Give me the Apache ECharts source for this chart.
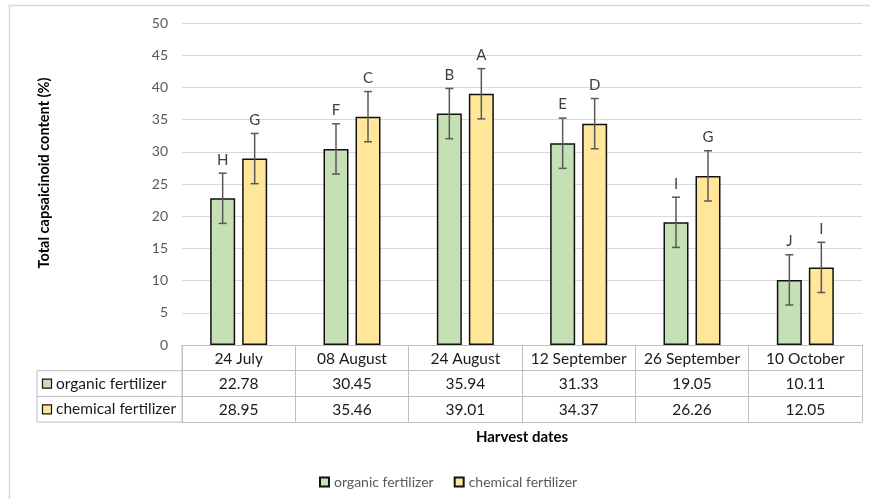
<!DOCTYPE html>
<html>
<head>
<meta charset="utf-8">
<script src="https://cdn.jsdelivr.net/npm/echarts@6/dist/echarts.min.js"></script>
<style>
  html, body { margin: 0; padding: 0; background: #fff; }
  #chart { width: 870px; height: 499px; }
</style>
</head>
<body>
<div id="chart"></div>
<script>
// Harvest dates and capsaicinoid content per treatment
var categories = ['24 July', '08 August', '24 August', '12 September', '26 September', '10 October'];
var organic = [22.78, 30.45, 35.94, 31.33, 19.05, 10.11];
var chemical = [28.95, 35.46, 39.01, 34.37, 26.26, 12.05];
var organicErr = [3.9, 3.9, 3.9, 3.9, 3.9, 3.9];
var chemicalErr = [3.9, 3.9, 3.9, 3.9, 3.9, 3.9];
var organicLetters = ['H', 'F', 'B', 'E', 'I', 'J'];
var chemicalLetters = ['G', 'C', 'A', 'D', 'G', 'I'];
var yTicks = { min: 0, max: 50, interval: 5 };

var FONT = 'Lato, "Open Sans", sans-serif';
var GREEN = '#c5e0b4', YELLOW = '#ffe699';
var GRID = { left: 182, right: 8, top: 23, bottom: 154 };
var ROW = 25.7;
var BAR_W = 25, BAR_GAP = 7;
var half = (BAR_W + BAR_GAP) / 2;

function errData(vals, errs) {
  return vals.map(function (v, i) { return [i, v - errs[i], v + errs[i]]; });
}

function errorRenderer(offset, letters) {
  return function (params, api) {
    var hi = api.coord([api.value(0), api.value(2)]);
    var lo = api.coord([api.value(0), api.value(1)]);
    var x = hi[0] + offset;
    var cap = 4;
    var st = { stroke: '#595959', lineWidth: 1.5 };
    return {
      type: 'group',
      children: [
        { type: 'line', shape: { x1: x, y1: hi[1], x2: x, y2: lo[1] }, style: st },
        { type: 'line', shape: { x1: x - cap, y1: hi[1], x2: x + cap, y2: hi[1] }, style: st },
        { type: 'line', shape: { x1: x - cap, y1: lo[1], x2: x + cap, y2: lo[1] }, style: st },
        { type: 'text', x: x, y: hi[1] - 6,
          style: { text: letters[params.dataIndex], fill: '#404040', font: '15px ' + FONT,
                   align: 'center', verticalAlign: 'bottom' } }
      ]
    };
  };
}

function tableAxis(data, offset, showLabel) {
  return {
    type: 'category', data: data, gridIndex: 0, position: 'bottom', offset: offset,
    axisLine: { show: true, lineStyle: { color: '#bfbfbf', width: 1 } },
    axisTick: { show: showLabel !== null, length: ROW, lineStyle: { color: '#bfbfbf' }, interval: 0 },
    axisLabel: { show: !!showLabel, interval: 0, margin: 5, color: '#1a1a1a',
                 fontFamily: FONT, fontSize: 15.5, lineHeight: 17 },
    splitLine: { show: false }
  };
}

var chart = echarts.init(document.getElementById('chart'), null, { renderer: 'canvas' });

var tableTop = 499 - GRID.bottom;
var row1 = tableTop + ROW, row2 = tableTop + 2 * ROW, row3 = tableTop + 3 * ROW;
var lineSt = { stroke: '#bfbfbf', lineWidth: 1 };

chart.setOption({
  animation: false,
  backgroundColor: '#fff',
  grid: GRID,
  legend: {
    left: 314, top: 470,
    itemWidth: 9, itemHeight: 9, itemGap: 20,
    icon: 'rect',
    textStyle: { color: '#595959', fontFamily: FONT, fontSize: 14 },
    data: ['organic fertilizer', 'chemical fertilizer']
  },
  xAxis: [
    tableAxis(categories, 0, true),
    tableAxis(organic.map(function (v) { return v.toFixed(2); }), ROW, true),
    tableAxis(chemical.map(function (v) { return v.toFixed(2); }), 2 * ROW, true),
    tableAxis(categories, 3 * ROW, null)
  ],
  yAxis: {
    type: 'value', min: yTicks.min, max: yTicks.max, interval: yTicks.interval,
    axisLine: { show: false }, axisTick: { show: false },
    axisLabel: { color: '#595959', fontFamily: FONT, fontSize: 14, margin: 14 },
    splitLine: { lineStyle: { color: '#d9d9d9', width: 1.2 } }
  },
  series: [
    {
      name: 'organic fertilizer', type: 'bar', data: organic,
      barWidth: BAR_W, barGap: (BAR_GAP / BAR_W * 100) + '%',
      itemStyle: { color: GREEN, borderColor: '#111', borderWidth: 1.5 }
    },
    {
      name: 'chemical fertilizer', type: 'bar', data: chemical,
      barWidth: BAR_W,
      itemStyle: { color: YELLOW, borderColor: '#111', borderWidth: 1.5 }
    },
    {
      type: 'custom', data: errData(organic, organicErr), z: 5,
      renderItem: errorRenderer(-half, organicLetters), encode: { x: 0, y: [1, 2] }
    },
    {
      type: 'custom', data: errData(chemical, chemicalErr), z: 5,
      renderItem: errorRenderer(half, chemicalLetters), encode: { x: 0, y: [1, 2] }
    }
  ],
  graphic: [
    // outer frame
    { type: 'rect', shape: { x: 9.5, y: 5.5, width: 1000, height: 1000 },
      style: { fill: 'none', stroke: '#d9d9d9', lineWidth: 1.5 }, silent: true, z: -1 },
    // y-axis title
    { type: 'text', x: 44, y: 173, rotation: Math.PI / 2,
      style: { text: 'Total capsaicinoid content (%)', fill: '#000', font: 'bold 14.5px ' + FONT,
               align: 'center', verticalAlign: 'middle' } },
    // left column of the data table
    { type: 'line', shape: { x1: 37, y1: row1, x2: GRID.left, y2: row1 }, style: lineSt },
    { type: 'line', shape: { x1: 37, y1: row2, x2: GRID.left, y2: row2 }, style: lineSt },
    { type: 'line', shape: { x1: 37, y1: row3, x2: GRID.left, y2: row3 }, style: lineSt },
    { type: 'line', shape: { x1: 37, y1: row1, x2: 37, y2: row3 }, style: lineSt },
    { type: 'line', shape: { x1: GRID.left, y1: tableTop, x2: GRID.left, y2: row3 }, style: lineSt },
    { type: 'rect', shape: { x: 42.5, y: row1 + 8.5, width: 9, height: 9 },
      style: { fill: GREEN, stroke: '#111', lineWidth: 1.2 } },
    { type: 'text', x: 56, y: row1 + ROW / 2,
      style: { text: 'organic fertilizer', fill: '#1a1a1a', font: '15.5px ' + FONT, verticalAlign: 'middle' } },
    { type: 'rect', shape: { x: 42.5, y: row2 + 8.5, width: 9, height: 9 },
      style: { fill: YELLOW, stroke: '#111', lineWidth: 1.2 } },
    { type: 'text', x: 56, y: row2 + ROW / 2,
      style: { text: 'chemical fertilizer', fill: '#1a1a1a', font: '15.5px ' + FONT, verticalAlign: 'middle' } },
    // x-axis title
    { type: 'text', x: 522, y: 437,
      style: { text: 'Harvest dates', fill: '#000', font: 'bold 15px ' + FONT, align: 'center', verticalAlign: 'middle' } }
  ]
});
</script>
</body>
</html>
